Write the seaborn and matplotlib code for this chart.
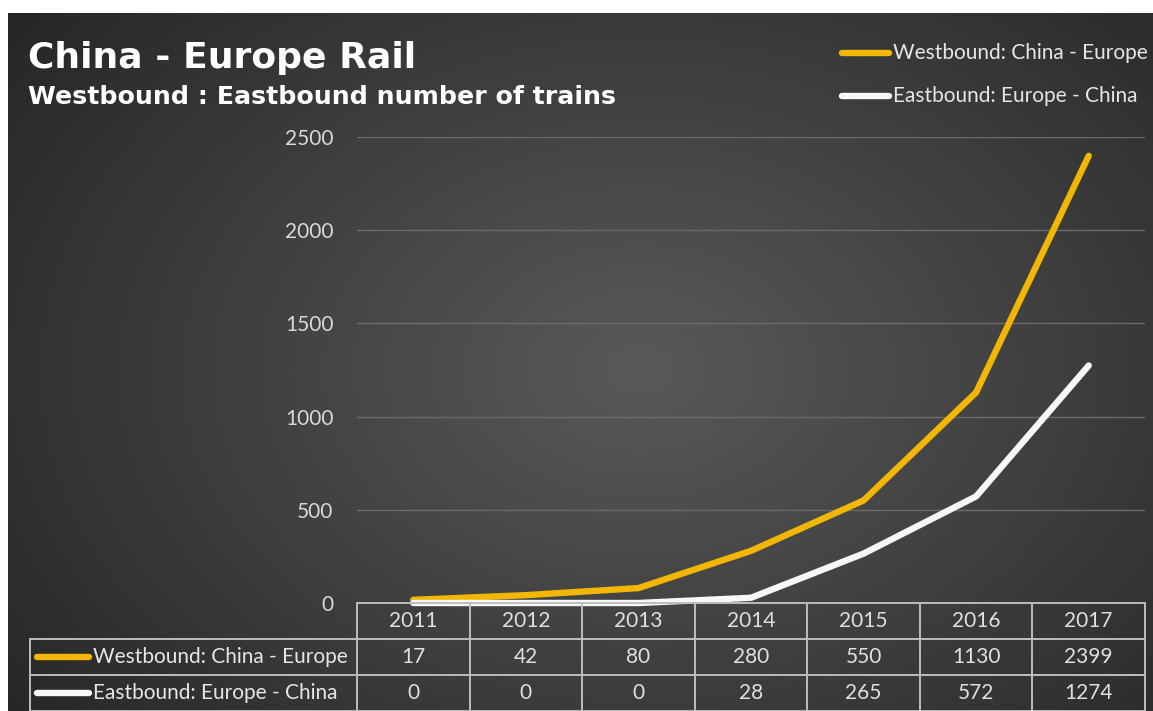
import numpy as np
import pandas as pd
import matplotlib
matplotlib.use("Agg")
import matplotlib.pyplot as plt
import seaborn as sns
from matplotlib.lines import Line2D

# ---------------- data ----------------
years = [2011, 2012, 2013, 2014, 2015, 2016, 2017]
westbound = [17, 42, 80, 280, 550, 1130, 2399]
eastbound = [0, 0, 0, 28, 265, 572, 1274]
series_names = ["Westbound: China - Europe", "Eastbound: Europe - China"]
y_ticks = [0, 500, 1000, 1500, 2000, 2500]
title = "China - Europe Rail"
subtitle = "Westbound : Eastbound number of trains"

colors = {series_names[0]: "#F2B705", series_names[1]: "#F7F7F7"}

df = pd.DataFrame({
    "year": years * 2,
    "trains": westbound + eastbound,
    "series": [series_names[0]] * len(years) + [series_names[1]] * len(years),
})

sns.set_theme(style="dark")
plt.rcParams["font.family"] = ["Lato", "DejaVu Sans"]

W, H = 1153, 711
fig = plt.figure(figsize=(W / 100, H / 100), dpi=100)

# ---------------- background (radial gradient + white margin) ----------------
bg = fig.add_axes([0, 0, 1, 1], zorder=0)
yy, xx = np.mgrid[0:H, 0:W]
r = np.sqrt(((xx - 640) / 720.0) ** 2 + ((yy - 370) / 520.0) ** 2)
val = 0.35 - 0.18 * np.clip(r, 0, 1.3)
img = np.dstack([val, val, val])
img[:13, :, :] = 1.0
img[:, :8, :] = 1.0
bg.imshow(img, extent=[0, W, H, 0], aspect="auto", interpolation="bilinear")
bg.set_xlim(0, W)
bg.set_ylim(H, 0)
bg.axis("off")

# ---------------- main axes ----------------
x0, x1, y0, y1 = 357, 1145, 603, 137
ax = fig.add_axes([x0 / W, (H - y0) / H, (x1 - x0) / W, (y0 - y1) / H], zorder=2)
ax.set_facecolor("none")

sns.lineplot(data=df, x="year", y="trains", hue="series", hue_order=series_names,
             palette=colors, linewidth=4.6, legend=False, ax=ax,
             solid_capstyle="round", clip_on=False)

ax.set_xlim(years[0] - 0.5, years[-1] + 0.5)
ax.set_ylim(y_ticks[0], y_ticks[-1])
ax.set_yticks(y_ticks)
ax.set_yticklabels([str(t) for t in y_ticks])
ax.set_xticks([])
ax.set_xlabel("")
ax.set_ylabel("")
ax.tick_params(axis="y", length=0, pad=17, labelsize=15, labelcolor="#D9D9D9")
for s in ax.spines.values():
    s.set_visible(False)
ax.grid(axis="y", color="#6B6B6B", linewidth=1.0)
ax.grid(axis="x", visible=False)
ax.set_axisbelow(True)

# ---------------- overlay (pixel coordinates) ----------------
ov = fig.add_axes([0, 0, 1, 1], zorder=3)
ov.set_xlim(0, W)
ov.set_ylim(H, 0)
ov.axis("off")
ov.patch.set_alpha(0)

ov.text(28, 68, title, fontsize=26, fontweight="bold", color="white",
        family=["DejaVu Sans"], va="baseline", ha="left")
ov.text(28, 104, subtitle, fontsize=18.2, fontweight="bold", color="white",
        family=["DejaVu Sans"], va="baseline", ha="left")

# legend (top right)
leg_y = [53, 96]
for name, ly in zip(series_names, leg_y):
    ov.add_line(Line2D([842, 889], [ly, ly], color=colors[name], lw=4.6,
                       solid_capstyle="round"))
    ov.text(893, ly, name, fontsize=15, color="#E6E6E6", va="center", ha="left")

# data table
edges = [years[0] - 0.5 + i for i in range(len(years) + 1)]
ex = [ax.transData.transform((e, 0))[0] for e in edges]
top = H - ax.transData.transform((years[0], 0))[1]
row_h = 36
rows = [top + i * row_h for i in range(4)]
label_left = 30
lc, lw = "#BDBDBD", 1.4

ov.add_line(Line2D([ex[0], ex[-1]], [rows[0], rows[0]], color=lc, lw=lw))
for ry in rows[1:]:
    ov.add_line(Line2D([label_left, ex[-1]], [ry, ry], color=lc, lw=lw))
for xe in ex:
    ov.add_line(Line2D([xe, xe], [rows[0], rows[3]], color=lc, lw=lw))
ov.add_line(Line2D([label_left, label_left], [rows[1], rows[3]], color=lc, lw=lw))

centers = [(ex[i] + ex[i + 1]) / 2 for i in range(len(years))]
for cxp, yr in zip(centers, years):
    ov.text(cxp, rows[0] + row_h / 2, str(yr), fontsize=15, color="#E0E0E0",
            ha="center", va="center")

for ri, (name, vals) in enumerate(zip(series_names, [westbound, eastbound])):
    cy = rows[ri + 1] + row_h / 2
    ov.add_line(Line2D([37, 89], [cy, cy], color=colors[name], lw=4.6,
                       solid_capstyle="round"))
    ov.text(93, cy, name, fontsize=15, color="#E6E6E6", ha="left", va="center")
    for cxp, v in zip(centers, vals):
        ov.text(cxp, cy, str(v), fontsize=15, color="#E0E0E0", ha="center", va="center")

fig.savefig("out.png", dpi=100)
